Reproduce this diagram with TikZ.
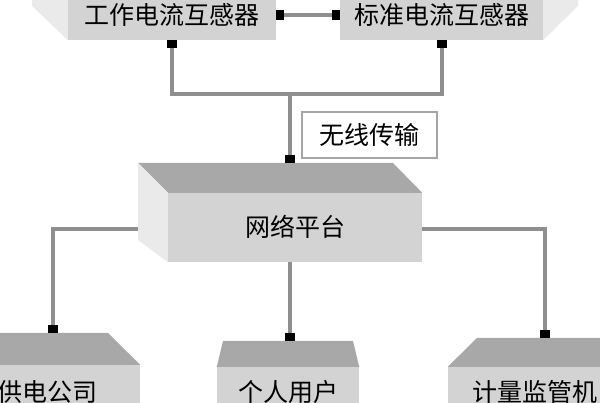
\documentclass[tikz,border=0pt]{standalone}
\usepackage{fontspec}
\newfontfamily\cjk{Noto Sans CJK SC}
\usetikzlibrary{arrows.meta}
\definecolor{boxfront}{HTML}{D3D3D3}
\definecolor{boxtop}{HTML}{A8A8A8}
\definecolor{boxside}{HTML}{EAEAEA}
\definecolor{linegray}{HTML}{8F8F8F}
\definecolor{framegray}{HTML}{A6A6A6}

\begin{document}
\begin{tikzpicture}[x=1pt,y=-1pt,
    face/.style={fill=boxfront,inner sep=0pt,font=\cjk\fontsize{25}{25}\selectfont},
    link/.style={draw=linegray,line width=4pt},
    arr/.style={-{Rectangle[length=8pt,width=10pt,color=black]}},
    biarr/.style={{Rectangle[length=8pt,width=10pt,color=black]}-{Rectangle[length=8pt,width=10pt,color=black]}}]
    \useasboundingbox (0,0) rectangle (600,403);
    \clip (0,0) rectangle (600,403);
    \node[face,minimum width=208pt,minimum height=50pt] (work) at (172,15) {工作电流互感器};
    \node[face,minimum width=203pt,minimum height=50pt] (std) at (441.5,15) {标准电流互感器};
    \node[face,minimum width=254pt,minimum height=69pt,text depth=4pt] (net) at (295,227.5) {网络平台};
    \node[face,minimum width=184pt,minimum height=54pt] (supply) at (48,392) {供电公司};
    \node[face,minimum width=142pt,minimum height=50pt] (user) at (288,392) {个人用户};
    \node[face,minimum width=174pt,minimum height=50pt] (meter) at (535,392) {计量监管机};
    \fill[boxside] (32,-10) -- (work.north west) -- (work.south west) -- (32,6) -- cycle;
    \fill[boxside] (std.north east) -- (578,-10) -- (578,6) -- (std.south east) -- cycle;
    \fill[boxtop] (138,163) -- (393,163) -- (net.north east) -- (net.north west) -- cycle;
    \fill[boxside] (138,163) -- (net.north west) -- (net.south west) -- (138,240) -- cycle;
    \fill[boxtop] (-60,333) -- (108,333) -- (supply.north east) -- (supply.north west) -- cycle;
    \fill[boxtop] (223,341) -- (353,341) -- (user.north east) -- (user.north west) -- cycle;
    \fill[boxtop] (477,338) -- (640,338) -- (meter.north east) -- (meter.north west) -- cycle;
    \node[draw=framegray,line width=2pt,fill=white,inner sep=0pt,minimum width=135pt,minimum height=46pt,
        font=\cjk\fontsize{25}{25}\selectfont] (wireless) at (369.5,135) {无线传输};
    \coordinate (hub) at (290,94);
    \coordinate (netin) at (290,163);
    \coordinate (netl) at (138,229);
    \coordinate (netr) at (422,229);
    \coordinate (supplyin) at (53,333);
    \coordinate (userin) at (290,341);
    \coordinate (meterin) at (545,338);
    \draw[link,biarr] (work) -- (std);
    \draw[link,arr] (hub) -| (work.south);
    \draw[link,arr] (hub) -| (std.south);
    \draw[link,arr] (hub) -- (netin);
    \draw[link,arr] (netl) -| (supplyin);
    \draw[link,arr] (netr) -| (meterin);
    \draw[link,arr] (net.south -| userin) -- (userin);
\end{tikzpicture}
\end{document}
